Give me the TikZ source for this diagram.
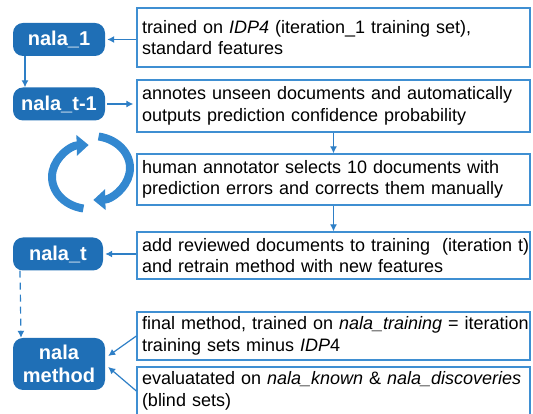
\documentclass[tikz,border=0pt]{standalone}
\usepackage{fontspec}
\setmainfont{Liberation Sans}
\usetikzlibrary{arrows.meta, positioning}
\definecolor{nalablue}{HTML}{1F6FB6}
\definecolor{boxblue}{HTML}{3F8FD2}
\definecolor{arrowblue}{HTML}{2E7FC6}
\definecolor{cycleblue}{HTML}{3388D0}

\begin{document}
\begin{tikzpicture}[x=1pt, y=1pt, node distance=72pt]
% Styles
\tikzstyle{model} = [rectangle, rounded corners=10pt, minimum width=92pt, minimum height=33pt, fill=nalablue, text=white, font=\fontsize{20}{23}\selectfont\bfseries, align=center, inner sep=3pt]
\tikzstyle{info} = [rectangle, draw=boxblue, line width=1.3pt, text width=383pt, inner sep=5pt, align=left, font=\fontsize{18}{21.5}\selectfont]
\tikzstyle{arrow} = [line width=1.2pt, draw=arrowblue, -{Latex[length=7pt,width=7pt]}]
\tikzstyle{cycle} = [line width=8pt, draw=cycleblue, -{Triangle[length=12pt,width=20pt]}]

\useasboundingbox (0,0) rectangle (533,414);

% Nodes
\node (info_one) [info, minimum height=59pt] at (333.5,376.5) {trained on \textit{IDP4} (iteration\_1 training set),\\ standard features};
\node (info_annot) [info, minimum height=52pt, below of=info_one, yshift=3.5pt] {\mbox{annotes unseen documents and automatically}\\ outputs prediction confidence probability};
\node (info_human) [info, minimum height=51pt, below of=info_annot, yshift=-1.5pt] {human annotator selects 10 documents with\\ prediction errors and corrects them manually};
\node (info_retrain) [info, minimum height=47pt, below of=info_human, yshift=-4pt] {\mbox{add reviewed documents to training~ (iteration t)}\\ and retrain method with new features};
\node (info_final) [info, minimum height=48pt, below of=info_retrain, yshift=-8.5pt] {\mbox{final method, trained on \textit{nala\_training} = iteration}\\ training sets minus \textit{IDP}4};
\node (info_eval) [info, minimum height=46pt, below of=info_final, yshift=17pt] {\mbox{evaluatated on \textit{nala\_known} \& \textit{nala\_discoveries}}\\ (blind sets)};

\node (nala_one) [model] at (59,374.5) {nala\_1};
\node (nala_tm) [model] at (59,310) {nala\_t-1};
\node (nala_t) [model, minimum width=90pt] at (58,160) {nala\_t};
\node (nala_method) [model, minimum height=52pt] at (59,50) {nala\\ method};

% Arrows
\draw [arrow, shorten >=2pt] (info_one.west |- nala_one.east) -- (nala_one.east);
\draw [arrow] ([xshift=-34pt]nala_one.south) -- ([xshift=-34pt]nala_tm.north);
\draw [arrow, shorten <=2pt, shorten >=3pt] (nala_tm.east) -- (nala_tm.east -| info_annot.west);
\draw [arrow] (info_annot.south) -- (info_human.north);
\draw [arrow] (info_human.south) -- (info_retrain.north);
\draw [arrow, shorten >=2pt] (info_retrain.west |- nala_t.east) -- (nala_t.east);
\draw [arrow, dashed, dash pattern=on 7pt off 5pt] ([xshift=-38pt]nala_t.south) -- ([xshift=-38pt]nala_method.north);
\draw [arrow] (info_final.west) -- ([xshift=3pt,yshift=8pt]nala_method.east);
\draw [arrow] (info_eval.west) -- ([xshift=3pt,yshift=-3pt]nala_method.east);

% Cycle
\draw [cycle] ([shift={(80:38 and 32)}]92,246) arc[start angle=80, end angle=-88, x radius=38, y radius=32];
\draw [cycle] ([shift={(-100:38 and 32)}]90,237) arc[start angle=-100, end angle=-268, x radius=38, y radius=32];
\end{tikzpicture}
\end{document}
